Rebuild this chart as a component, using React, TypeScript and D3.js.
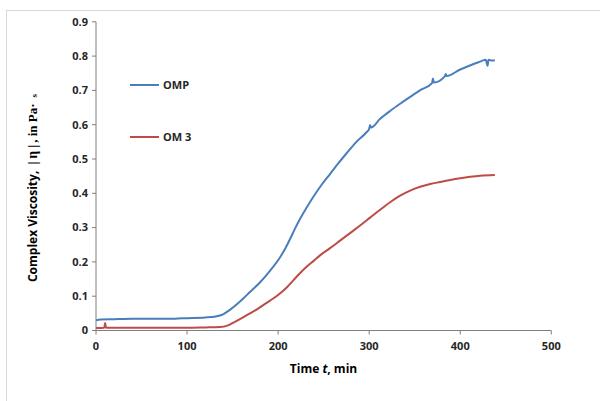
import React from "react";
import * as d3 from "d3";

const xTicks = [0, 100, 200, 300, 400, 500];
const yTicks = [0, 0.1, 0.2, 0.3, 0.4, 0.5, 0.6, 0.7, 0.8, 0.9];
const yTickLabels = ["0", "0.1", "0.2", "0.3", "0.4", "0.5", "0.6", "0.7", "0.8", "0.9"];

const ompTime = [0, 5, 20, 40, 60, 80, 90, 100, 120, 130, 135, 140, 147, 155, 162, 169, 180, 191, 202, 208, 213, 218, 224, 231, 238, 247, 257, 266, 275, 286, 297, 300, 301, 302, 312, 323, 334, 345, 357, 369, 370, 371, 383, 384, 385, 400, 410, 420, 428, 430, 431, 435, 438];
const ompVisc = [0.030, 0.032, 0.033, 0.034, 0.034, 0.034, 0.035, 0.036, 0.038, 0.040, 0.043, 0.048, 0.060, 0.077, 0.094, 0.112, 0.140, 0.174, 0.213, 0.240, 0.266, 0.294, 0.325, 0.357, 0.387, 0.422, 0.456, 0.487, 0.516, 0.550, 0.578, 0.588, 0.599, 0.592, 0.617, 0.640, 0.661, 0.681, 0.702, 0.721, 0.735, 0.723, 0.741, 0.748, 0.742, 0.761, 0.772, 0.782, 0.789, 0.772, 0.789, 0.787, 0.788];

const om3Time = [0, 9, 10, 11, 40, 80, 100, 120, 136, 145, 151, 160, 169, 178, 187, 195, 202, 210, 217, 224, 231, 239, 246, 257, 268, 279, 290, 301, 312, 323, 334, 345, 356, 367, 378, 389, 400, 411, 422, 438];
const om3Visc = [0.007, 0.008, 0.022, 0.008, 0.008, 0.008, 0.008, 0.009, 0.010, 0.015, 0.023, 0.036, 0.050, 0.064, 0.080, 0.094, 0.108, 0.127, 0.147, 0.167, 0.185, 0.203, 0.219, 0.240, 0.262, 0.284, 0.306, 0.329, 0.352, 0.374, 0.393, 0.408, 0.419, 0.427, 0.433, 0.439, 0.444, 0.448, 0.451, 0.453];

const seriesNames = ["OMP", "OM 3"];
const seriesColors = ["#4a7ebb", "#be4b48"];

export default function App() {
  const W = 600, H = 401;
  const x = d3.scaleLinear().domain([0, 500]).range([96, 551.3]);
  const y = d3.scaleLinear().domain([0, 0.9]).range([330.5, 21.8]);
  const line = d3.line<[number, number]>().x(d => x(d[0])).y(d => y(d[1])).curve(d3.curveMonotoneX);
  const ompData: [number, number][] = ompTime.map((t, i) => [t, ompVisc[i]]);
  const om3Data: [number, number][] = om3Time.map((t, i) => [t, om3Visc[i]]);
  const tickFont = "'Open Sans', 'Noto Sans', sans-serif";
  const axisColor = "#7f7f7f";
  const textColor = "#262626";
  return (
    <svg width={W} height={H} style={{ position: "absolute", left: 0, top: 0 }}>
      <rect x={0} y={0} width={W} height={H} fill="#fff" />
      <rect x={6.5} y={10.5} width={620} height={420} fill="none" stroke="#d9d9d9" strokeWidth={1} />
      <path d={line(om3Data) || ""} fill="none" stroke={seriesColors[1]} strokeWidth={2} strokeLinejoin="round" />
      <path d={line(ompData) || ""} fill="none" stroke={seriesColors[0]} strokeWidth={2} strokeLinejoin="round" />
      <line x1={x(0)} x2={x(0)} y1={y(0.9)} y2={y(0)} stroke={axisColor} strokeWidth={1} />
      <line x1={x(0)} x2={x(500)} y1={y(0)} y2={y(0)} stroke={axisColor} strokeWidth={1} />
      {yTicks.map((v, i) => (
        <g key={"y" + i}>
          <line x1={x(0) - 4} x2={x(0)} y1={y(v)} y2={y(v)} stroke={axisColor} />
          <text x={x(0) - 8} y={y(v)} dy="0.35em" textAnchor="end" fontFamily={tickFont} fontWeight="bold" fontSize={11} fill={textColor}>{yTickLabels[i]}</text>
        </g>
      ))}
      {xTicks.map((v, i) => (
        <g key={"x" + i}>
          <line x1={x(v)} x2={x(v)} y1={y(0)} y2={y(0) + 4} stroke={axisColor} />
          <text x={x(v)} y={y(0) + 19} textAnchor="middle" fontFamily={tickFont} fontWeight="bold" fontSize={11} fill={textColor}>{String(v)}</text>
        </g>
      ))}
      <text x={323.5} y={373} textAnchor="middle" fontFamily={tickFont} fontWeight="bold" fontSize={12} fill="#000">
        Time <tspan fontStyle="italic">t</tspan>, min
      </text>
      <text transform="translate(37,188) rotate(-90)" textAnchor="middle" fontWeight="bold" fill="#000">
        <tspan fontFamily={tickFont} fontSize={12}>Complex Viscosity, </tspan>
        <tspan fontFamily="'Liberation Serif', serif" fontSize={13} dx="3">|</tspan>
        <tspan fontFamily="'Liberation Serif', serif" fontSize={14} dx="3">η</tspan>
        <tspan fontFamily="'Liberation Serif', serif" fontSize={13} dx="3">|</tspan>
        <tspan fontFamily="'Liberation Serif', serif" fontSize={13} dx="2">, in Pa·</tspan>
        <tspan fontFamily="'Liberation Serif', serif" fontSize={9} dx="6">s</tspan>
      </text>
      {seriesNames.map((name, i) => (
        <g key={name}>
          <line x1={130} x2={159} y1={85 + i * 52} y2={85 + i * 52} stroke={seriesColors[i]} strokeWidth={2} />
          <text x={163} y={85 + i * 52} dy="0.35em" fontFamily={tickFont} fontWeight="bold" fontSize={11} fill={textColor}>{name}</text>
        </g>
      ))}
    </svg>
  );
}
